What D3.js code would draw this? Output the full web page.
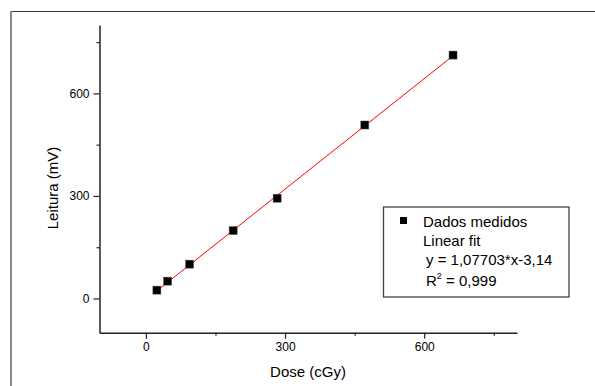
<!DOCTYPE html>
<html>
<head>
<meta charset="utf-8">
<script src="https://cdn.jsdelivr.net/npm/d3@7"></script>
<style>
  html, body { margin: 0; padding: 0; background: #fff; }
  svg { display: block; font-family: "Liberation Sans", Arial, Helvetica, sans-serif; }
</style>
</head>
<body>
<svg id="chart" width="595" height="386"></svg>
<script>
// Data
const doses = [23.7, 46.8, 94.2, 188.1, 282.9, 471.9, 662.1];
const readings = [24.5, 50.8, 100.5, 198.7, 293.3, 507.5, 712.0];
const fitSlope = 1.07703;
const fitIntercept = -3.14;
const majorTicks = [0, 300, 600];
const minorTicks = [150, 450, 750];
const xDomain = [-100, 800];
const yDomain = [-100, 800];
const legendLabels = ["Dados medidos", "Linear fit", "y = 1,07703*x-3,14"];
const r2Text = "0,999";
const xTitle = "Dose (cGy)";
const yTitle = "Leitura (mV)";

const svg = d3.select("#chart");

// Outer frame
svg.append("line").attr("x1", 11).attr("x2", 595).attr("y1", 11.5).attr("y2", 11.5)
  .attr("stroke", "#333").attr("stroke-width", 1.2);
svg.append("line").attr("x1", 11).attr("x2", 11).attr("y1", 11).attr("y2", 386)
  .attr("stroke", "#8a8a8a").attr("stroke-width", 2);

const x = d3.scaleLinear().domain(xDomain).range([99.5, 517]);
const y = d3.scaleLinear().domain(yDomain).range([332.7, 25]);

function styleAxis(g) {
  g.selectAll("path.domain").attr("stroke", "#222").attr("stroke-width", 1.5);
  g.selectAll(".tick line").attr("stroke", "#222").attr("stroke-width", 1.2);
  g.selectAll(".tick text").attr("font-size", 12).attr("fill", "#000")
    .attr("font-family", "'Liberation Sans', Arial, sans-serif");
}

// X axis
const gx = svg.append("g").attr("transform", "translate(0,332.7)")
  .call(d3.axisBottom(x).tickValues(majorTicks).tickSize(6).tickSizeOuter(0).tickPadding(4).tickFormat(d3.format("d")));
styleAxis(gx);
const gxm = svg.append("g").attr("transform", "translate(0,332.7)")
  .call(d3.axisBottom(x).tickValues(minorTicks).tickSize(3).tickSizeOuter(0).tickFormat(""));
gxm.select("path.domain").remove();
styleAxis(gxm);

// Y axis
const gy = svg.append("g").attr("transform", "translate(99.5,0)")
  .call(d3.axisLeft(y).tickValues(majorTicks).tickSize(6).tickSizeOuter(0).tickPadding(4).tickFormat(d3.format("d")));
styleAxis(gy);
const gym = svg.append("g").attr("transform", "translate(99.5,0)")
  .call(d3.axisLeft(y).tickValues(minorTicks).tickSize(3).tickSizeOuter(0).tickFormat(""));
gym.select("path.domain").remove();
styleAxis(gym);

// Axis titles
svg.append("text").attr("x", 308).attr("y", 377).attr("text-anchor", "middle")
  .attr("font-size", 15).text(xTitle);
svg.append("text").attr("transform", "translate(58,188) rotate(-90)").attr("text-anchor", "middle")
  .attr("font-size", 15).text(yTitle);

// Fit line
const xMin = d3.min(doses), xMax = d3.max(doses);
svg.append("line")
  .attr("x1", x(xMin)).attr("y1", y(fitSlope * xMin + fitIntercept))
  .attr("x2", x(xMax)).attr("y2", y(fitSlope * xMax + fitIntercept))
  .attr("stroke", "#ff0000").attr("stroke-width", 1);

// Points
const pts = doses.map((d, i) => ({ x: d, y: readings[i] }));
svg.append("g").selectAll("rect").data(pts).join("rect")
  .attr("x", d => x(d.x) - 4).attr("y", d => y(d.y) - 4)
  .attr("width", 8).attr("height", 8)
  .attr("fill", "#000").attr("stroke", "#555").attr("stroke-width", 0.5);

// Legend
const lg = svg.append("g");
lg.append("rect").attr("x", 383.5).attr("y", 207).attr("width", 185.5).attr("height", 90)
  .attr("fill", "#fff").attr("stroke", "#444").attr("stroke-width", 1.3);
lg.append("rect").attr("x", 400).attr("y", 217).attr("width", 7).attr("height", 7).attr("fill", "#000");
lg.append("text").attr("x", 423).attr("y", 226.5).attr("font-size", 15).text(legendLabels[0]);
lg.append("text").attr("x", 423).attr("y", 245.5).attr("font-size", 15).text(legendLabels[1]);
lg.append("text").attr("x", 426).attr("y", 265).attr("font-size", 15).text(legendLabels[2]);
const r2 = lg.append("text").attr("x", 426).attr("y", 285.5).attr("font-size", 15);
r2.append("tspan").text("R");
r2.append("tspan").attr("font-size", 9).attr("dy", -7).text("2");
r2.append("tspan").attr("dy", 7).text(" = " + r2Text);
</script>
</body>
</html>
